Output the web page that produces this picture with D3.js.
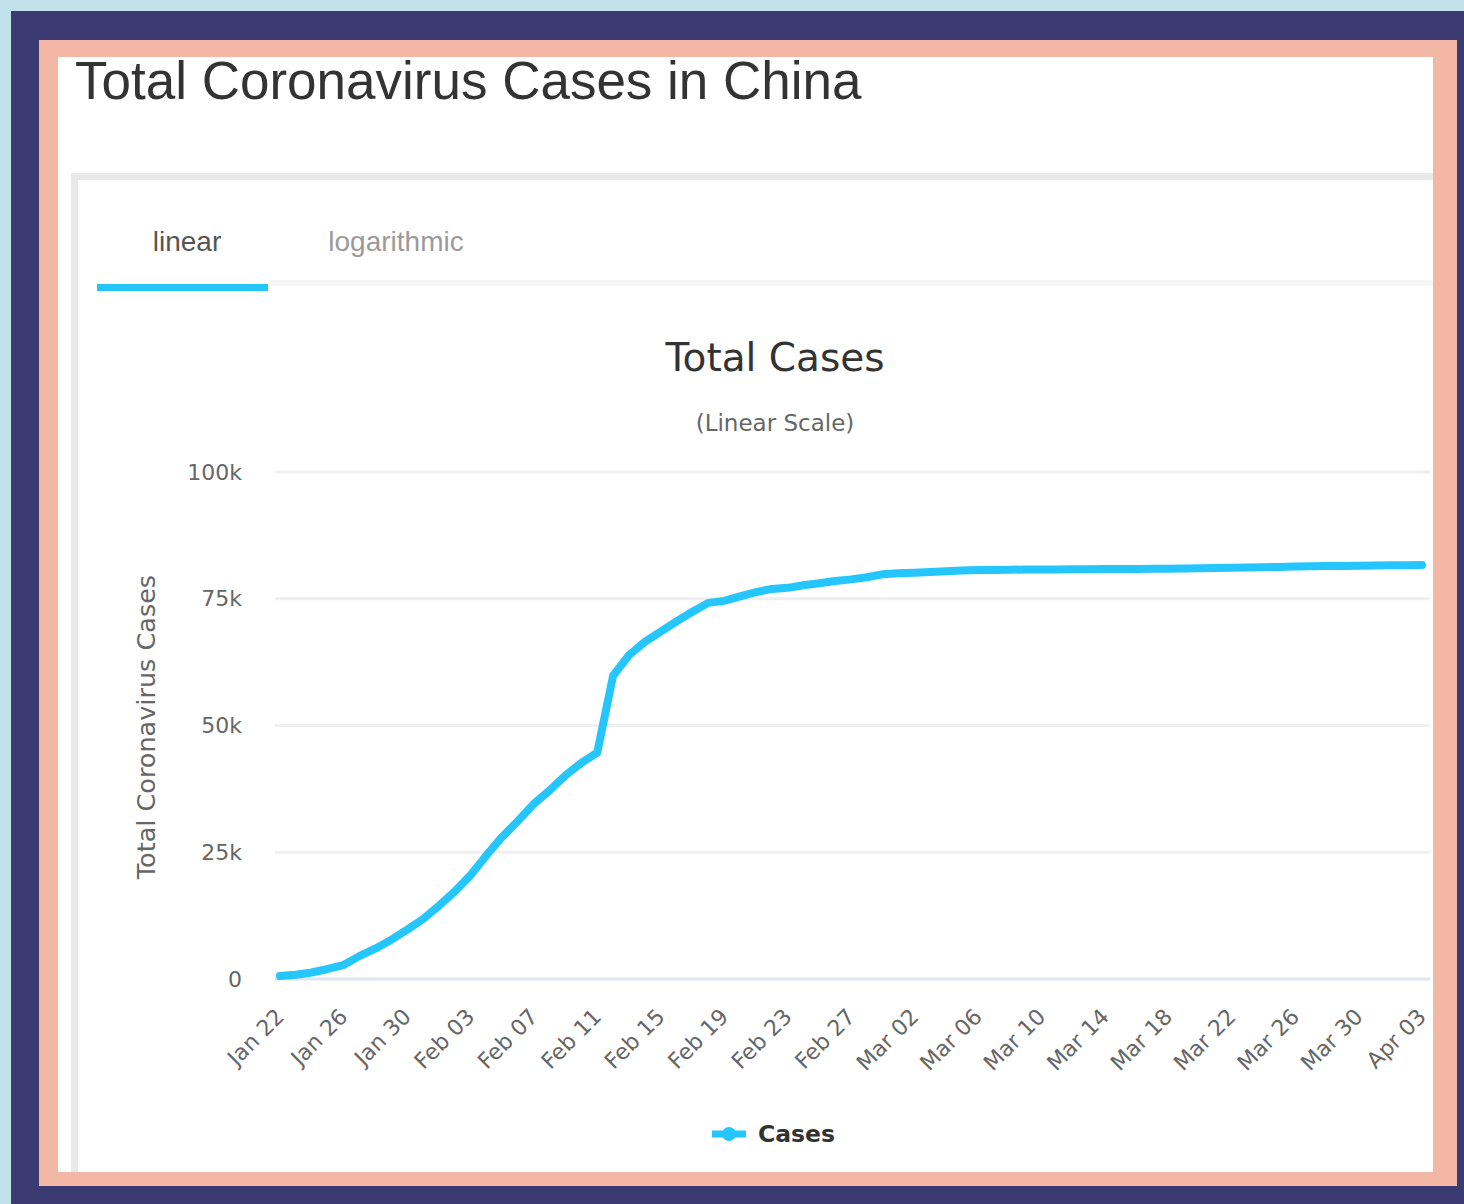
<!DOCTYPE html>
<html>
<head>
<meta charset="utf-8">
<script src="https://cdn.jsdelivr.net/npm/d3@7"></script>
<style>
  body { margin: 0; background: #c1e2ea; }
  svg { display: block; }
</style>
</head>
<body>
<div id="chart"></div>
<script>
// Daily totals, China (worldometers style)
const dates = [
  "Jan 22","Jan 23","Jan 24","Jan 25","Jan 26","Jan 27","Jan 28","Jan 29","Jan 30","Jan 31",
  "Feb 01","Feb 02","Feb 03","Feb 04","Feb 05","Feb 06","Feb 07","Feb 08","Feb 09","Feb 10",
  "Feb 11","Feb 12","Feb 13","Feb 14","Feb 15","Feb 16","Feb 17","Feb 18","Feb 19","Feb 20",
  "Feb 21","Feb 22","Feb 23","Feb 24","Feb 25","Feb 26","Feb 27","Feb 28","Feb 29",
  "Mar 01","Mar 02","Mar 03","Mar 04","Mar 05","Mar 06","Mar 07","Mar 08","Mar 09","Mar 10",
  "Mar 11","Mar 12","Mar 13","Mar 14","Mar 15","Mar 16","Mar 17","Mar 18","Mar 19","Mar 20",
  "Mar 21","Mar 22","Mar 23","Mar 24","Mar 25","Mar 26","Mar 27","Mar 28","Mar 29","Mar 30",
  "Mar 31","Apr 01","Apr 02","Apr 03"
]
const cases = [
  571, 830, 1287, 1975, 2744, 4515, 5974, 7711, 9692, 11791,
  14380, 17205, 20438, 24324, 28018, 31161, 34546, 37198, 40171, 42638,
  44653, 59804, 63851, 66492, 68500, 70548, 72436, 74185, 74576, 75465,
  76288, 76936, 77150, 77658, 78064, 78497, 78824, 79251, 79824,
  80026, 80151, 80270, 80409, 80552, 80651, 80695, 80735, 80754, 80778,
  80793, 80813, 80824, 80844, 80860, 80881, 80894, 80928, 80967, 81008,
  81054, 81093, 81171, 81218, 81285, 81340, 81394, 81439, 81470, 81518,
  81554, 81589, 81620, 81639
]
const xTicks = ["Jan 22","Jan 26","Jan 30","Feb 03","Feb 07","Feb 11","Feb 15","Feb 19","Feb 23",
  "Feb 27","Mar 02","Mar 06","Mar 10","Mar 14","Mar 18","Mar 22","Mar 26","Mar 30","Apr 03"]
const yTicks = [0, 25000, 50000, 75000, 100000]
const yTickLabels = ["0", "25k", "50k", "75k", "100k"]

const W = 1464, H = 1204
const lineColor = "#25c6fe"
const chartFont = "'DejaVu Sans', Verdana, sans-serif"

const svg = d3.select("#chart").append("svg")
  .attr("width", W).attr("height", H)

// Frame: light blue, navy, salmon, white
svg.append("rect").attr("width", W).attr("height", H).attr("fill", "#c1e2ea")
svg.append("rect").attr("x", 11).attr("y", 11).attr("width", W - 11).attr("height", H - 11).attr("fill", "#3c3a72")
svg.append("rect").attr("x", 39).attr("y", 40).attr("width", 1418).attr("height", 1146).attr("fill", "#f3b8a5")
svg.append("rect").attr("x", 58).attr("y", 57).attr("width", 1375).attr("height", 1115).attr("fill", "#ffffff")

const panel = svg.append("g")
// clip so everything stays inside the white panel
svg.append("clipPath").attr("id", "panelClip")
  .append("rect").attr("x", 58).attr("y", 57).attr("width", 1375).attr("height", 1115)
panel.attr("clip-path", "url(#panelClip)")

// Page title
panel.append("text")
  .attr("x", 75).attr("y", 99)
  .attr("font-family", "'Liberation Sans', Arial, sans-serif")
  .attr("font-size", 53)
  .attr("fill", "#333")
  .text("Total Coronavirus Cases in China")

// Card border
panel.append("rect")
  .attr("x", 74.5).attr("y", 176.5).attr("width", 1420).attr("height", 1100)
  .attr("fill", "none").attr("stroke", "#e9e9e9").attr("stroke-width", 7)

// Tabs
panel.append("rect").attr("x", 268).attr("y", 280).attr("width", 1200).attr("height", 6).attr("fill", "#f6f6f6")
panel.append("rect").attr("x", 97).attr("y", 284).attr("width", 171).attr("height", 7).attr("fill", lineColor)
panel.append("text").attr("x", 187).attr("y", 251).attr("text-anchor", "middle")
  .attr("font-family", "'Liberation Sans', Arial, sans-serif").attr("font-size", 28)
  .attr("fill", "#555").text("linear")
panel.append("text").attr("x", 396).attr("y", 251).attr("text-anchor", "middle")
  .attr("font-family", "'Liberation Sans', Arial, sans-serif").attr("font-size", 28)
  .attr("fill", "#9a9a9a").text("logarithmic")

// Chart titles
panel.append("text").attr("x", 775).attr("y", 371).attr("text-anchor", "middle")
  .attr("font-family", chartFont).attr("font-size", 39).attr("fill", "#333")
  .text("Total Cases")
panel.append("text").attr("x", 775).attr("y", 431).attr("text-anchor", "middle")
  .attr("font-family", chartFont).attr("font-size", 23).attr("fill", "#666")
  .text("(Linear Scale)")

// Scales
const x = d3.scalePoint().domain(dates).range([280, 1422])
const y = d3.scaleLinear().domain([0, 100000]).range([979, 472])
const plotLeft = 275, plotRight = 1430

// Gridlines
panel.append("g").selectAll("line")
  .data(yTicks)
  .enter()
  .append("line")
  .attr("x1", plotLeft).attr("x2", plotRight)
  .attr("y1", d => y(d)).attr("y2", d => y(d))
  .attr("stroke", d => d === 0 ? "#dfe4f3" : "#efefef")
  .attr("stroke-width", 3)

// Y axis labels
const yAxis = d3.axisLeft(y).tickValues(yTicks).tickSize(0).tickPadding(0)
  .tickFormat((d, i) => yTickLabels[i])
const yg = panel.append("g").attr("transform", "translate(242,0)").call(yAxis)
yg.select(".domain").remove()
yg.selectAll("text")
  .attr("font-family", chartFont).attr("font-size", 22).attr("fill", "#666")

// Y axis title
panel.append("text")
  .attr("transform", "translate(155,727) rotate(-90)")
  .attr("text-anchor", "middle")
  .attr("font-family", chartFont).attr("font-size", 25.5).attr("fill", "#666")
  .text("Total Coronavirus Cases")

// X axis labels
const xAxis = d3.axisBottom(x).tickValues(xTicks).tickSize(0)
const xg = panel.append("g").attr("transform", "translate(0,979)").call(xAxis)
xg.select(".domain").remove()
xg.selectAll("text")
  .attr("font-family", chartFont).attr("font-size", 22).attr("fill", "#666")
  .attr("text-anchor", "end")
  .attr("dy", 0)
  .attr("y", 0)
  .attr("transform", "translate(5,39) rotate(-45)")

// Line
const line = d3.line()
  .x((d, i) => x(dates[i]))
  .y(d => y(d))
panel.append("path")
  .datum(cases)
  .attr("d", line)
  .attr("fill", "none")
  .attr("stroke", lineColor)
  .attr("stroke-width", 8)
  .attr("stroke-linejoin", "round")
  .attr("stroke-linecap", "round")

// Legend
const legend = panel.append("g").attr("id", "legend")
legend.append("line").attr("x1", 712).attr("x2", 746).attr("y1", 1134).attr("y2", 1134)
  .attr("stroke", lineColor).attr("stroke-width", 7)
legend.append("circle").attr("cx", 729).attr("cy", 1134).attr("r", 7).attr("fill", lineColor)
legend.append("text").attr("x", 758).attr("y", 1142)
  .attr("font-family", chartFont).attr("font-size", 23.5).attr("font-weight", "bold")
  .attr("fill", "#333").text("Cases")
</script>
</body>
</html>
